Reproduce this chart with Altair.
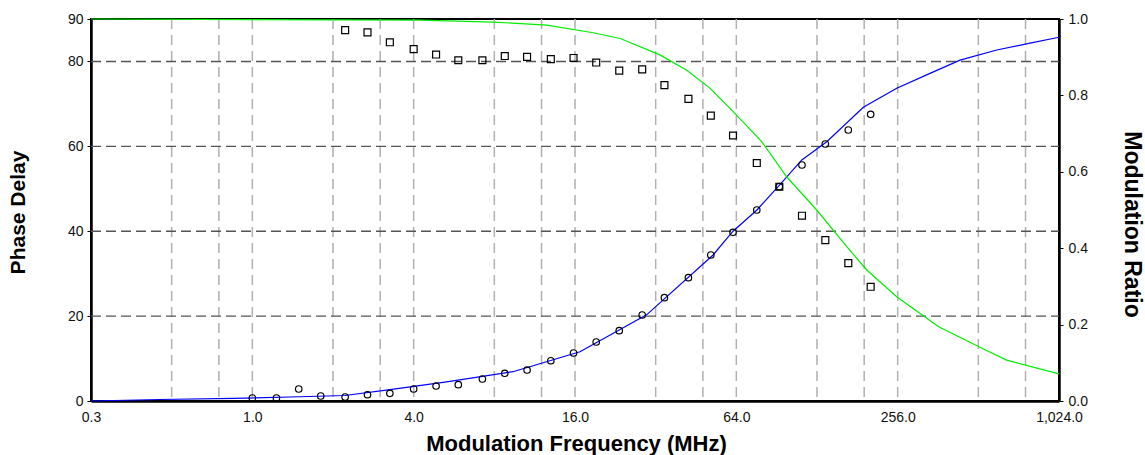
import altair as alt
import pandas as pd

FONT = "Liberation Sans"

# observed data (frequency in MHz)
freq_obs = [1.0, 1.23, 1.49, 1.80, 2.22, 2.69, 3.26, 4.0, 4.85, 5.87, 7.22, 8.75, 10.6, 13.0,
            15.8, 19.2, 23.4, 28.5, 34.5, 42.4, 51.4, 62.2, 76.3, 92.6, 112.5, 137.5, 167.5, 203.0]
phase_obs = [0.71, 0.71, 2.83, 1.18, 0.94, 1.48, 1.81, 2.83, 3.53, 3.84, 5.18, 6.53, 7.30, 9.49,
             11.31, 13.90, 16.56, 20.26, 24.34, 29.05, 34.40, 39.75, 45.0, 50.49, 55.60, 60.55, 63.85, 67.55]
freq_mod = [2.22, 2.69, 3.26, 4.0, 4.85, 5.87, 7.22, 8.75, 10.6, 13.0, 15.8, 19.2, 23.4, 28.5,
            34.5, 42.4, 51.4, 62.2, 76.3, 92.6, 112.5, 137.5, 167.5, 203.0]
mod_obs = [0.971, 0.965, 0.939, 0.921, 0.907, 0.892, 0.892, 0.903, 0.901, 0.895, 0.898, 0.886,
           0.865, 0.868, 0.827, 0.791, 0.747, 0.695, 0.623, 0.561, 0.485, 0.421, 0.361, 0.299]

# fitted curves
phase_fit_f = [0.25, 0.452, 0.847, 1.506, 2.217, 3.264, 5.31, 9.39, 16.7, 29.6, 52.4, 62.2, 76.4,
               93.1, 112.3, 139.2, 190.6, 253.9, 338.0, 437.5, 599.8, 798.7, 1024.0]
phase_fit_v = [0.0, 0.35, 0.6, 1.0, 1.3, 2.7, 4.5, 6.9, 11.6, 20.3, 34.4, 40.0, 45.0, 51.0, 56.8,
               61.1, 69.2, 73.7, 77.2, 80.3, 82.7, 84.3, 85.7]
mod_fit_f = [0.25, 4.22, 7.93, 12.55, 18.7, 23.6, 33.2, 41.8, 51.0, 60.6, 79.6, 98.6, 127.7, 165.3,
             196.3, 253.9, 362.8, 542.3, 653.6, 1024.0]
mod_fit_r = [1.0, 0.997, 0.992, 0.984, 0.964, 0.949, 0.906, 0.866, 0.819, 0.766, 0.679, 0.587, 0.500,
             0.404, 0.343, 0.273, 0.195, 0.134, 0.107, 0.071]

x_ticks = [0.25, 1, 4, 16, 64, 256, 1024]
x_grid = [0.5, 0.75, 1, 2, 3, 4, 8, 12, 16, 32, 48, 64, 128, 192, 256, 512, 768]
y_grid = [20, 40, 60, 80]
left_ticks = [0, 20, 40, 60, 80, 90]
right_ticks = [0.0, 0.2, 0.4, 0.6, 0.8, 1.0]

df_circ = pd.DataFrame({"f": freq_obs, "phase": phase_obs})
df_sq = pd.DataFrame({"f": freq_mod, "ratio": mod_obs})
df_pfit = pd.DataFrame({"f": phase_fit_f, "phase": phase_fit_v})
df_mfit = pd.DataFrame({"f": mod_fit_f, "ratio": mod_fit_r})
df_vg = pd.DataFrame({"f": x_grid})
df_hg = pd.DataFrame({"g": y_grid})

xs = alt.Scale(type="log", domain=[0.25, 1024], nice=False)
yl = alt.Scale(domain=[0, 90], nice=False, zero=False)
yr = alt.Scale(domain=[0, 1], nice=False, zero=False)

x_axis = alt.Axis(values=x_ticks, format=",.1f", ticks=False, grid=False, labelPadding=9,
                  labelFlush=False, labelOverlap=False, title="Modulation Frequency (MHz)",
                  titleX=485, titleY=49, titleBaseline="alphabetic", titleAlign="center",
                  titleFontSize=22)
left_axis = alt.Axis(values=left_ticks, format="d", grid=False, orient="left",
                     title="Phase Delay", titleX=-73, titleY=193, titleAngle=270,
                     titleBaseline="middle", titleAlign="center", titleFontSize=21,
                     labelPadding=4)
right_axis = alt.Axis(values=right_ticks, format=".1f", grid=False, orient="right",
                      title="Modulation Ratio", titleX=72, titleY=205, titleAngle=90,
                      titleBaseline="middle", titleAlign="center", titleFontSize=23,
                      labelPadding=5)

X = alt.X("f:Q", scale=xs, axis=x_axis, title="Modulation Frequency (MHz)")

vgrid = alt.Chart(df_vg).mark_rule(color="#b0b0b0", strokeWidth=1.5, strokeDash=[10, 6]).encode(
    x=X)
hgrid = alt.Chart(df_hg).mark_rule(color="#555555", strokeWidth=1.4, strokeDash=[10, 5]).encode(
    x=alt.value(0), x2=alt.value(968),
    y=alt.Y("g:Q", scale=yl, axis=None))
blue = alt.Chart(df_pfit).mark_line(color="#0000ff", strokeWidth=1.2).encode(
    x=X, y=alt.Y("phase:Q", scale=yl, axis=None))
green = alt.Chart(df_mfit).mark_line(color="#00ee00", strokeWidth=1.2).encode(
    x=X, y=alt.Y("ratio:Q", scale=yr, axis=None))
circ = alt.Chart(df_circ).mark_point(shape="circle", size=42, filled=False, color="black",
                                     strokeWidth=1.2, opacity=1).encode(
    x=X, y=alt.Y("phase:Q", scale=yl, axis=left_axis))
sq = alt.Chart(df_sq).mark_point(shape="square", size=48, filled=False, color="black",
                                 strokeWidth=1.2, opacity=1).encode(
    x=X, y=alt.Y("ratio:Q", scale=yr, axis=right_axis))

chart = alt.layer(vgrid, hgrid, blue, green, circ, sq).resolve_scale(y="independent").properties(
    width=968, height=382,
    autosize=alt.AutoSizeParams(type="none"),
    padding={"left": 91, "top": 19, "right": 86, "bottom": 54},
).configure_view(stroke="black", strokeWidth=2).configure_axis(
    labelFont=FONT, labelFontSize=14, labelColor="#111111",
    titleFont=FONT, titleFontWeight="bold", titleColor="black",
    domainColor="black", domainWidth=2.5, tickColor="black", tickSize=4, tickWidth=1,
)

chart.save("out.html", embed_options={"renderer": "svg", "actions": False})
